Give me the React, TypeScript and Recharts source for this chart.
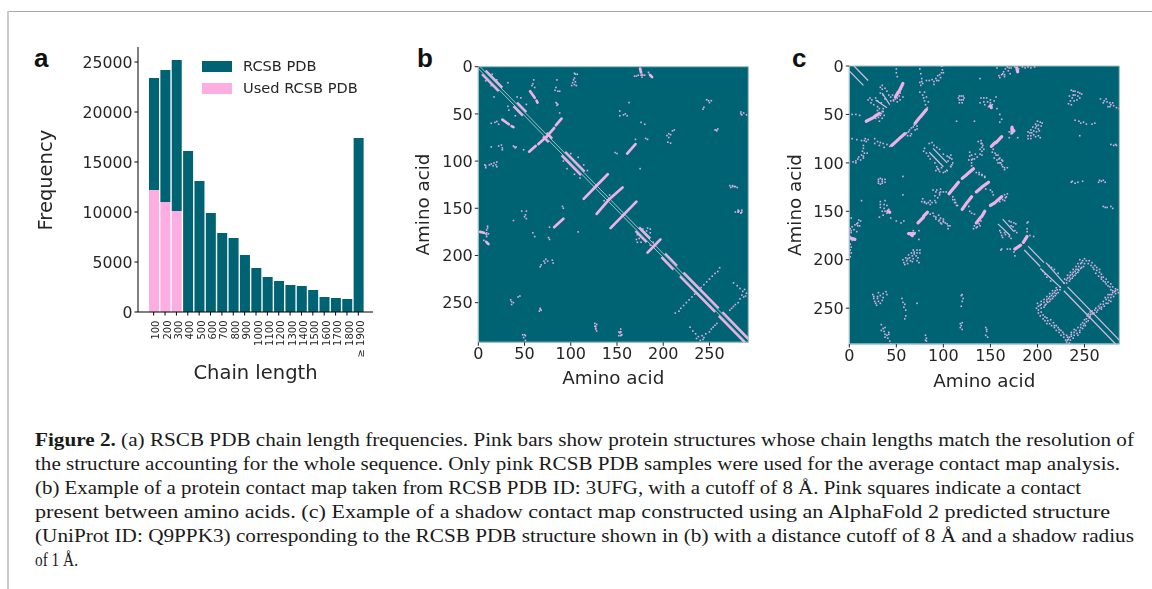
import React from 'react';
import { BarChart, Bar, XAxis, YAxis, Legend, ScatterChart, Scatter, CartesianGrid, ReferenceArea } from 'recharts';

const TEAL = '#006373';
const PINK = '#fcaee2';
const MAP_PINK = '#eeb2e6';
const PALE = '#9cc0c8';
const INK = '#262626';
const SANS = '"DejaVu Sans", sans-serif';

// Panel a
const chainLengths = ['100','200','300','400','500','600','700','800','900','1000','1100','1200','1300','1400','1500','1600','1700','1800','≥ 1900'];
const totalCounts = [23400,24200,25200,16100,13100,9900,7900,7400,5700,4400,3500,3100,2700,2600,2200,1500,1400,1300,17400];
const usedCounts = [12200,11000,10100,0,0,0,0,0,0,0,0,0,0,0,0,0,0,0,0];
const freqTicks = [0,5000,10000,15000,20000,25000];
const mapTicks = [0,50,100,150,200,250];

// Panel b: contacts in amino-acid units; upper triangle, mirrored when built
const bPaleLines = [[2,0,292,290],[0,2,290,292]];
const bHelixStripes = [[8,4,26,22],[42,38,52,48],[74,70,80,76],[94,90,115,111],[174,170,186,182],[202,198,215,211],[222,218,260,256],[264,260,292,288]];
const bThickStrands = [[56,26,61,33],[63,36,64,38],[90,55,84,62],[82,65,74,74],[170,82,161,92],[140,114,127,127],[156,128,141,141],[171,143,157,157],[197,183,190,190],[175,2,176,6],[186,9,188,11]];
const bDots = [
 [173,9],[169,10],[171,10],[177,8],[185,8],[105,8],[104,12],[103,14],[105,16],[102,17],[104,19],[101,20],[85,14],[84,22],[86,26],[88,26],[83,25],
 [60,14],[59,18],[58,20],[61,22],[84,38],[86,40],[85,41],[88,49],[159,50],[161,52],[157,51],[153,47],[153,52],[163,38],[244,43],[247,35],[249,36],[252,36],[250,38],
 [256,67],[258,68],[284,48],[287,49],[290,51],[284,50],[206,71],[208,72],[204,73],[210,68],[212,67],[206,75],[205,80],[208,81],[181,76],[183,77],[170,77],
 [104,7],[107,8],[106,20],[176,9],[178,9],[177,11],[184,6],[180,9],[85,39],[148,91],[175,108],[150,92],[272,126],[275,127],[278,127],[273,128],[278,154],[281,154],[284,155],[282,153],
 [126,275],[277,127],[280,128],[285,154],[285,51],[257,67],[259,66],[261,213],[259,217],[256,219],[253,222],[250,225],[247,228],[244,231],[241,234],
 [276,229],[280,232],[283,235],[286,238],[285,242],[283,246],[281,250],[278,252],[276,254],[274,256],[272,258],[288,236],[290,240],[289,243],[287,244],
 [183,171],[186,172],[182,174],[186,176],[184,180],[178,172],[180,176],[32,17],[42,32],[46,33],[15,8],[20,14],[23,19],[52,40],[100,92],[108,96],[114,104],[118,110],
 [243,45],[281,152],[154,281],[155,284],[152,285],[176,59],[180,61],[142,136],[148,135],[189,186]
];

// Panel c
const cThinLines = [[5,0,20,15],[35,28,43,40],[89,85,104,100],[107,103,108,104],[163,158,175,171],[190,186,207,203],[209,203,229,225],[232,228,287,283]];
const cThickStrands = [[82,45,76,52],[75,53,70,59],[162,73,156,79],[155,79,151,83],[132,106,126,111],[125,112,120,116],[148,120,141,125],[140,126,135,130],[162,135,156,140],[155,141,150,144],[189,176,185,182],[57,18,53,26],[52,27,49,32],[178,2,179,6],[173,63,173,69],[150,41,151,43],[173,65,175,67]];
const cDots = [
 [50,3],[50,7],[51,11],[75,3],[76,8],[77,13],[75,17],[78,18],[77,16],[82,15],[85,15],[88,14],[90,16],[92,13],[94,10],[96,9],[98,7],[97,12],[99,4],[99,0],[98,0],[93,15],
 [76,20],[75,27],[78,30],[79,33],[80,36],[81,40],[83,43],[117,31],[119,31],[121,31],[117,35],[119,35],[121,35],[117,38],[120,38],
 [140,33],[143,33],[146,33],[139,38],[143,37],[147,37],[150,38],[148,42],[152,40],[154,36],[156,32],[157,44],[160,50],[162,55],[160,58],
 [160,12],[162,9],[164,6],[166,3],[168,1],[169,5],[171,8],[165,9],[172,2],[176,1],[180,3],[184,1],[187,2],[190,1],
 [236,25],[238,26],[240,26],[243,27],[245,28],[247,29],[240,30],[243,31],[237,33],[235,36],[233,39],[236,40],[239,36],[242,35],
 [267,34],[271,36],[274,37],[277,38],[278,40],[281,41],[284,43],[287,44],[270,38],[275,42],[240,56],[244,57],[246,59],[249,58],[252,60],[258,60],
 [200,57],[203,58],[205,59],[198,60],[201,61],[204,62],[195,63],[198,64],[201,65],[193,66],[196,67],[190,68],[190,72],[193,72],[196,71],[198,73],[201,72],[203,74],[190,75],[193,75],
 [281,82],[284,82],[137,78],[140,80],[142,82],[143,86],[141,88],[139,91],[136,94],[141,92],[134,91],[128,93],[127,97],[130,97],[133,96],
 [153,86],[155,90],[158,92],[160,95],[163,98],[162,102],[165,105],[168,105],[157,97],[160,100],[170,68],[172,70],[170,74],[179,74],
 [42,30],[44,32],[47,35],[51,37],[54,35],[57,32],[51,33],[47,36],[54,28],[33,22],[35,24],[33,28],[36,30],[35,20],[38,23],
 [157,2],[163,8],[165,11],[159,10],[170,2],[193,2],[197,1],[261,59],[245,72],[237,119],[243,120],[248,119],[266,118],[268,119],[270,118],[272,120],[265,120],[236,120],[240,121],
 [270,145],[274,146],[278,145],[280,147],[272,146],[278,81],[283,81],[152,89],[156,92],[159,96],[161,100],[163,104],[165,107],[154,95],[158,100],[162,97],
 [128,89],[130,92],[131,96],[130,100],[130,103],[140,77],[141,80],[141,84],[139,86],[138,110],[141,112],[144,114],[135,110],[138,112],[141,113],[144,115],
 [100,91],[104,93],[107,95],[109,96],[105,98],[109,102],[108,92],[106,94],[85,80],[88,79],[90,82],[93,84],[96,86],[110,100],[108,104],
 [165,133],[168,132],[166,136],[163,138],[160,140],[145,127],[150,128],[152,130],[153,133],[170,160],[172,161],[175,162],[177,163],[174,166],[176,170],[178,172],[172,165],
 [165,139],[167,135],[192,175],[196,176],[190,161],[189,168],[189,162],[189,171],[114,57],[133,57],[139,13],
 [248,201],[245,200],[250,204],[246,204],[243,204],[247,208],[244,207],[241,207],[244,211],[241,210],[238,210],[241,214],[238,213],[235,213],[238,217],[235,216],[232,216],[235,220],[232,219],[229,220],
 [250,199],[252,201],[254,204],[257,206],[259,208],[260,210],[263,211],[266,213],[268,215],[265,217],[270,218],[273,220],[270,222],[275,223],[278,225],[275,227],[280,228],[283,230],[280,232],[285,231],[288,232],
 [283,235],[280,234],[277,236],[281,238],[278,239],[275,239],[276,242],[273,241],[270,243],[273,245],[270,246],[267,246],[268,249],[265,248],[262,250],[264,252],[261,252],[258,253],[256,254],[259,256],
 [212,206],[215,208],[218,210],[222,214],[69,61],[66,64],[63,68],[60,70],[66,70],[72,65],[72,62],
 [249,207],[246,209],[243,210],[247,203],[243,213],[240,212],[240,216],[237,215],[237,219],[234,218],[234,222],[231,221],[231,224],[228,224],
 [255,201],[258,203],[261,206],[263,208],[266,210],[262,214],[268,218],[272,223],[268,220],[277,228],[273,225],[283,232],[278,231],[286,234],
 [279,236],[282,233],[275,236],[272,239],[278,243],[275,245],[271,248],[268,251],[266,250],[263,254],[260,255],[256,257],
 [46,30],[49,34],[53,31],[44,36],[40,26],[38,34],[80,27],[82,32],[84,37],[116,33],[122,33],[144,40],[150,35],
 [192,69],[194,69],[199,68],[199,62],[202,67],[238,30],[234,31],[245,33],[273,34],[280,38],[277,42],[90,19],[95,15],[100,7]
];

const captionLines = [
 { bold: 'Figure 2.', text: ' (a) RSCB PDB chain length frequencies. Pink bars show protein structures whose chain lengths match the resolution of', end: 1134 },
 { bold: '', text: 'the structure accounting for the whole sequence. Only pink RCSB PDB samples were used for the average contact map analysis.', end: 1120 },
 { bold: '', text: '(b) Example of a protein contact map taken from RCSB PDB ID: 3UFG, with a cutoff of 8 Å. Pink squares indicate a contact', end: 1081 },
 { bold: '', text: 'present between amino acids. (c) Example of a shadow contact map constructed using an AlphaFold 2 predicted structure', end: 1110 },
 { bold: '', text: '(UniProt ID: Q9PPK3) corresponding to the RCSB PDB structure shown in (b) with a distance cutoff of 8 Å and a shadow radius', end: 1134 },
 { bold: '', text: 'of 1 Å.', end: 78 },
];

const barTable = chainLengths.map((c, i) => ({ c, used: usedCounts[i], rest: totalCounts[i] - usedCounts[i] }));
const mirrorDots = (d: number[][]) => d.flatMap(([x, y]) => [{ x, y }, { x: y, y: x }]);
const mirrorSegs = (s: number[][]) => s.flatMap(([a, b, c, d]) => [[a, b, c, d], [b, a, d, c]]);

const Square = (props: any) => <rect x={props.cx - 0.8} y={props.cy - 0.8} width={1.6} height={1.6} fill="#dcaee2" />;
const NoMark = () => <g />;

const LegendBox = ({ payload }: any) => {
  const items = [...(payload || [])].sort((a: any, b: any) => a.value.length - b.value.length);
  return (
    <div>
      {items.map((p: any, i: number) => (
        <div key={p.value} style={{ position: 'absolute', left: 0, top: i * 22, width: 160, height: 11 }}>
          <div style={{ position: 'absolute', left: 0, top: 0, width: 30, height: 11, background: p.color }} />
          <div style={{ position: 'absolute', left: 41, top: -4, whiteSpace: 'nowrap', font: `14.6px ${SANS}`, lineHeight: '18px', color: INK }}>{p.value}</div>
        </div>
      ))}
    </div>
  );
};

function ContactMap({ size, left, top, plotLeft, plotTop, plotH, strands, strandW, thin, thinColor, thinW, stripes, dots, pale, xOff, yOff }: any) {
  const margin = { left: plotLeft - 40, top: plotTop, right: 370 - plotLeft - 270, bottom: 360 - plotTop - plotH - 30 };
  return (
    <div style={{ position: 'absolute', left, top, filter: 'blur(0.35px)' }}>
      <ScatterChart width={370} height={360} margin={margin}>
        <CartesianGrid horizontal={false} vertical={false} fill={TEAL} fillOpacity={1} />
        <XAxis type="number" dataKey="x" domain={[0, size]} ticks={mapTicks} allowDataOverflow height={30} tickSize={3.5} interval={0}
          tick={{ fontSize: 16, fill: INK, fontFamily: SANS }} stroke={INK} axisLine={{ stroke: PALE }}
          label={{ value: 'Amino acid', position: 'insideBottom', offset: xOff, fontSize: 18.3, fill: INK, fontFamily: SANS }} />
        <YAxis type="number" dataKey="y" domain={[0, size]} reversed ticks={mapTicks} allowDataOverflow width={40} tickSize={3.5} interval={0}
          tick={{ fontSize: 16, fill: INK, fontFamily: SANS }} stroke={INK} axisLine={{ stroke: PALE }}
          label={{ value: 'Amino acid', angle: -90, position: 'insideLeft', offset: yOff, dy: 51, fontSize: 18.3, fill: INK, fontFamily: SANS }} />
        <ReferenceArea x1={0} x2={size} y1={0} y2={size} fill="none" stroke={PALE} />
        {pale.map((s: number[], i: number) => (
          <Scatter key={`p${i}`} isAnimationActive={false} data={[{ x: s[0], y: s[1] }, { x: s[2], y: s[3] }]} shape={NoMark} line={{ stroke: PALE, strokeWidth: 1 }} />
        ))}
        {mirrorSegs(thin).map((s: number[], i: number) => (
          <Scatter key={`t${i}`} isAnimationActive={false} data={[{ x: s[0], y: s[1] }, { x: s[2], y: s[3] }]} shape={NoMark} line={{ stroke: thinColor, strokeWidth: thinW }} />
        ))}
        {mirrorSegs(stripes).map((s: number[], i: number) => (
          <Scatter key={`h${i}`} isAnimationActive={false} data={[{ x: s[0], y: s[1] }, { x: s[2], y: s[3] }]} shape={NoMark} line={{ stroke: MAP_PINK, strokeWidth: 2.2 }} />
        ))}
        {mirrorSegs(strands).map((s: number[], i: number) => (
          <Scatter key={`s${i}`} isAnimationActive={false} data={[{ x: s[0], y: s[1] }, { x: s[2], y: s[3] }]} shape={NoMark} line={{ stroke: MAP_PINK, strokeWidth: strandW, strokeLinecap: 'round' }} />
        ))}
        <Scatter isAnimationActive={false} data={mirrorDots(dots)} shape={Square} />
      </ScatterChart>
    </div>
  );
}

export default function App() {
  return (
    <div style={{ position: 'absolute', left: 0, top: 0, width: 1152, height: 589, background: '#fff', overflow: 'hidden' }}>
      <div style={{ position: 'absolute', left: 0, top: 0, filter: 'blur(0.25px)' }}>
        <BarChart width={400} height={400} data={barTable} barSize={10} margin={{ left: 78, top: 47, right: 27, bottom: 28 }}>
          <XAxis dataKey="c" height={60} interval={0} padding={{ left: 10, right: 9 }} tickSize={3.5} stroke="#000"
            angle={-90} textAnchor="end" tick={{ fontSize: 10, fill: INK, fontFamily: SANS, dy: 3, dx: -1.5 }}
            label={{ value: 'Chain length', position: 'insideBottom', offset: -7, fontSize: 19.5, fill: INK, fontFamily: SANS }} />
          <YAxis domain={[0, 26500]} ticks={freqTicks} interval={0} width={60} tickSize={3.5} stroke="#000"
            tick={{ fontSize: 15.7, fill: INK, fontFamily: SANS }}
            label={{ value: 'Frequency', angle: -90, position: 'insideLeft', offset: -33, dy: 51, fontSize: 19.5, fill: INK, fontFamily: SANS }} />
          <Legend layout="horizontal" verticalAlign="middle" content={LegendBox as any} wrapperStyle={{ position: 'absolute', left: 202, top: 61, width: 170, height: 40 }} />
          <Bar dataKey="used" name="Used RCSB PDB" stackId="a" fill={PINK} isAnimationActive={false} />
          <Bar dataKey="rest" name="RCSB PDB" stackId="a" fill={TEAL} isAnimationActive={false} />
        </BarChart>
      </div>
      <ContactMap size={292} left={400} top={40} plotLeft={78.3} plotTop={26.7} plotH={275.6} xOff={-12} yOff={-16}
        pale={bPaleLines} strands={bThickStrands} strandW={2.7} thin={[]} thinColor={MAP_PINK} thinW={1} stripes={bHelixStripes} dots={bDots} />
      <ContactMap size={287} left={770} top={40} plotLeft={79.3} plotTop={26} plotH={278} xOff={-13} yOff={-15}
        pale={[]} strands={cThickStrands} strandW={3.2} thin={cThinLines} thinColor="#d3bfe0" thinW={1.2} stripes={[]} dots={cDots} />
      <svg width={1152} height={589} style={{ position: 'absolute', left: 0, top: 0, pointerEvents: 'none' }}>
        <line x1={8} y1={11.5} x2={1152} y2={11.5} stroke="#a8a8a8" strokeWidth={1.2} />
        <line x1={8} y1={11} x2={8} y2={589} stroke="#cccccc" strokeWidth={2} />
        <text x={34} y={67} fontFamily='"Liberation Sans", sans-serif' fontWeight={700} fontSize={26} fill="#111">a</text>
        <text x={417} y={67} fontFamily='"Liberation Sans", sans-serif' fontWeight={700} fontSize={26} fill="#111">b</text>
        <text x={792} y={67} fontFamily='"Liberation Sans", sans-serif' fontWeight={700} fontSize={26} fill="#111">c</text>
        {captionLines.map((l, i) => (
          <text key={i} x={35} y={445.5 + i * 24} fontFamily='"Liberation Serif", serif' fontSize={19.5} fill="#1a1a1a"
            textLength={l.end - 35} lengthAdjust="spacingAndGlyphs">
            {l.bold ? <tspan fontWeight={700}>{l.bold}</tspan> : null}{l.text}
          </text>
        ))}
      </svg>
    </div>
  );
}
